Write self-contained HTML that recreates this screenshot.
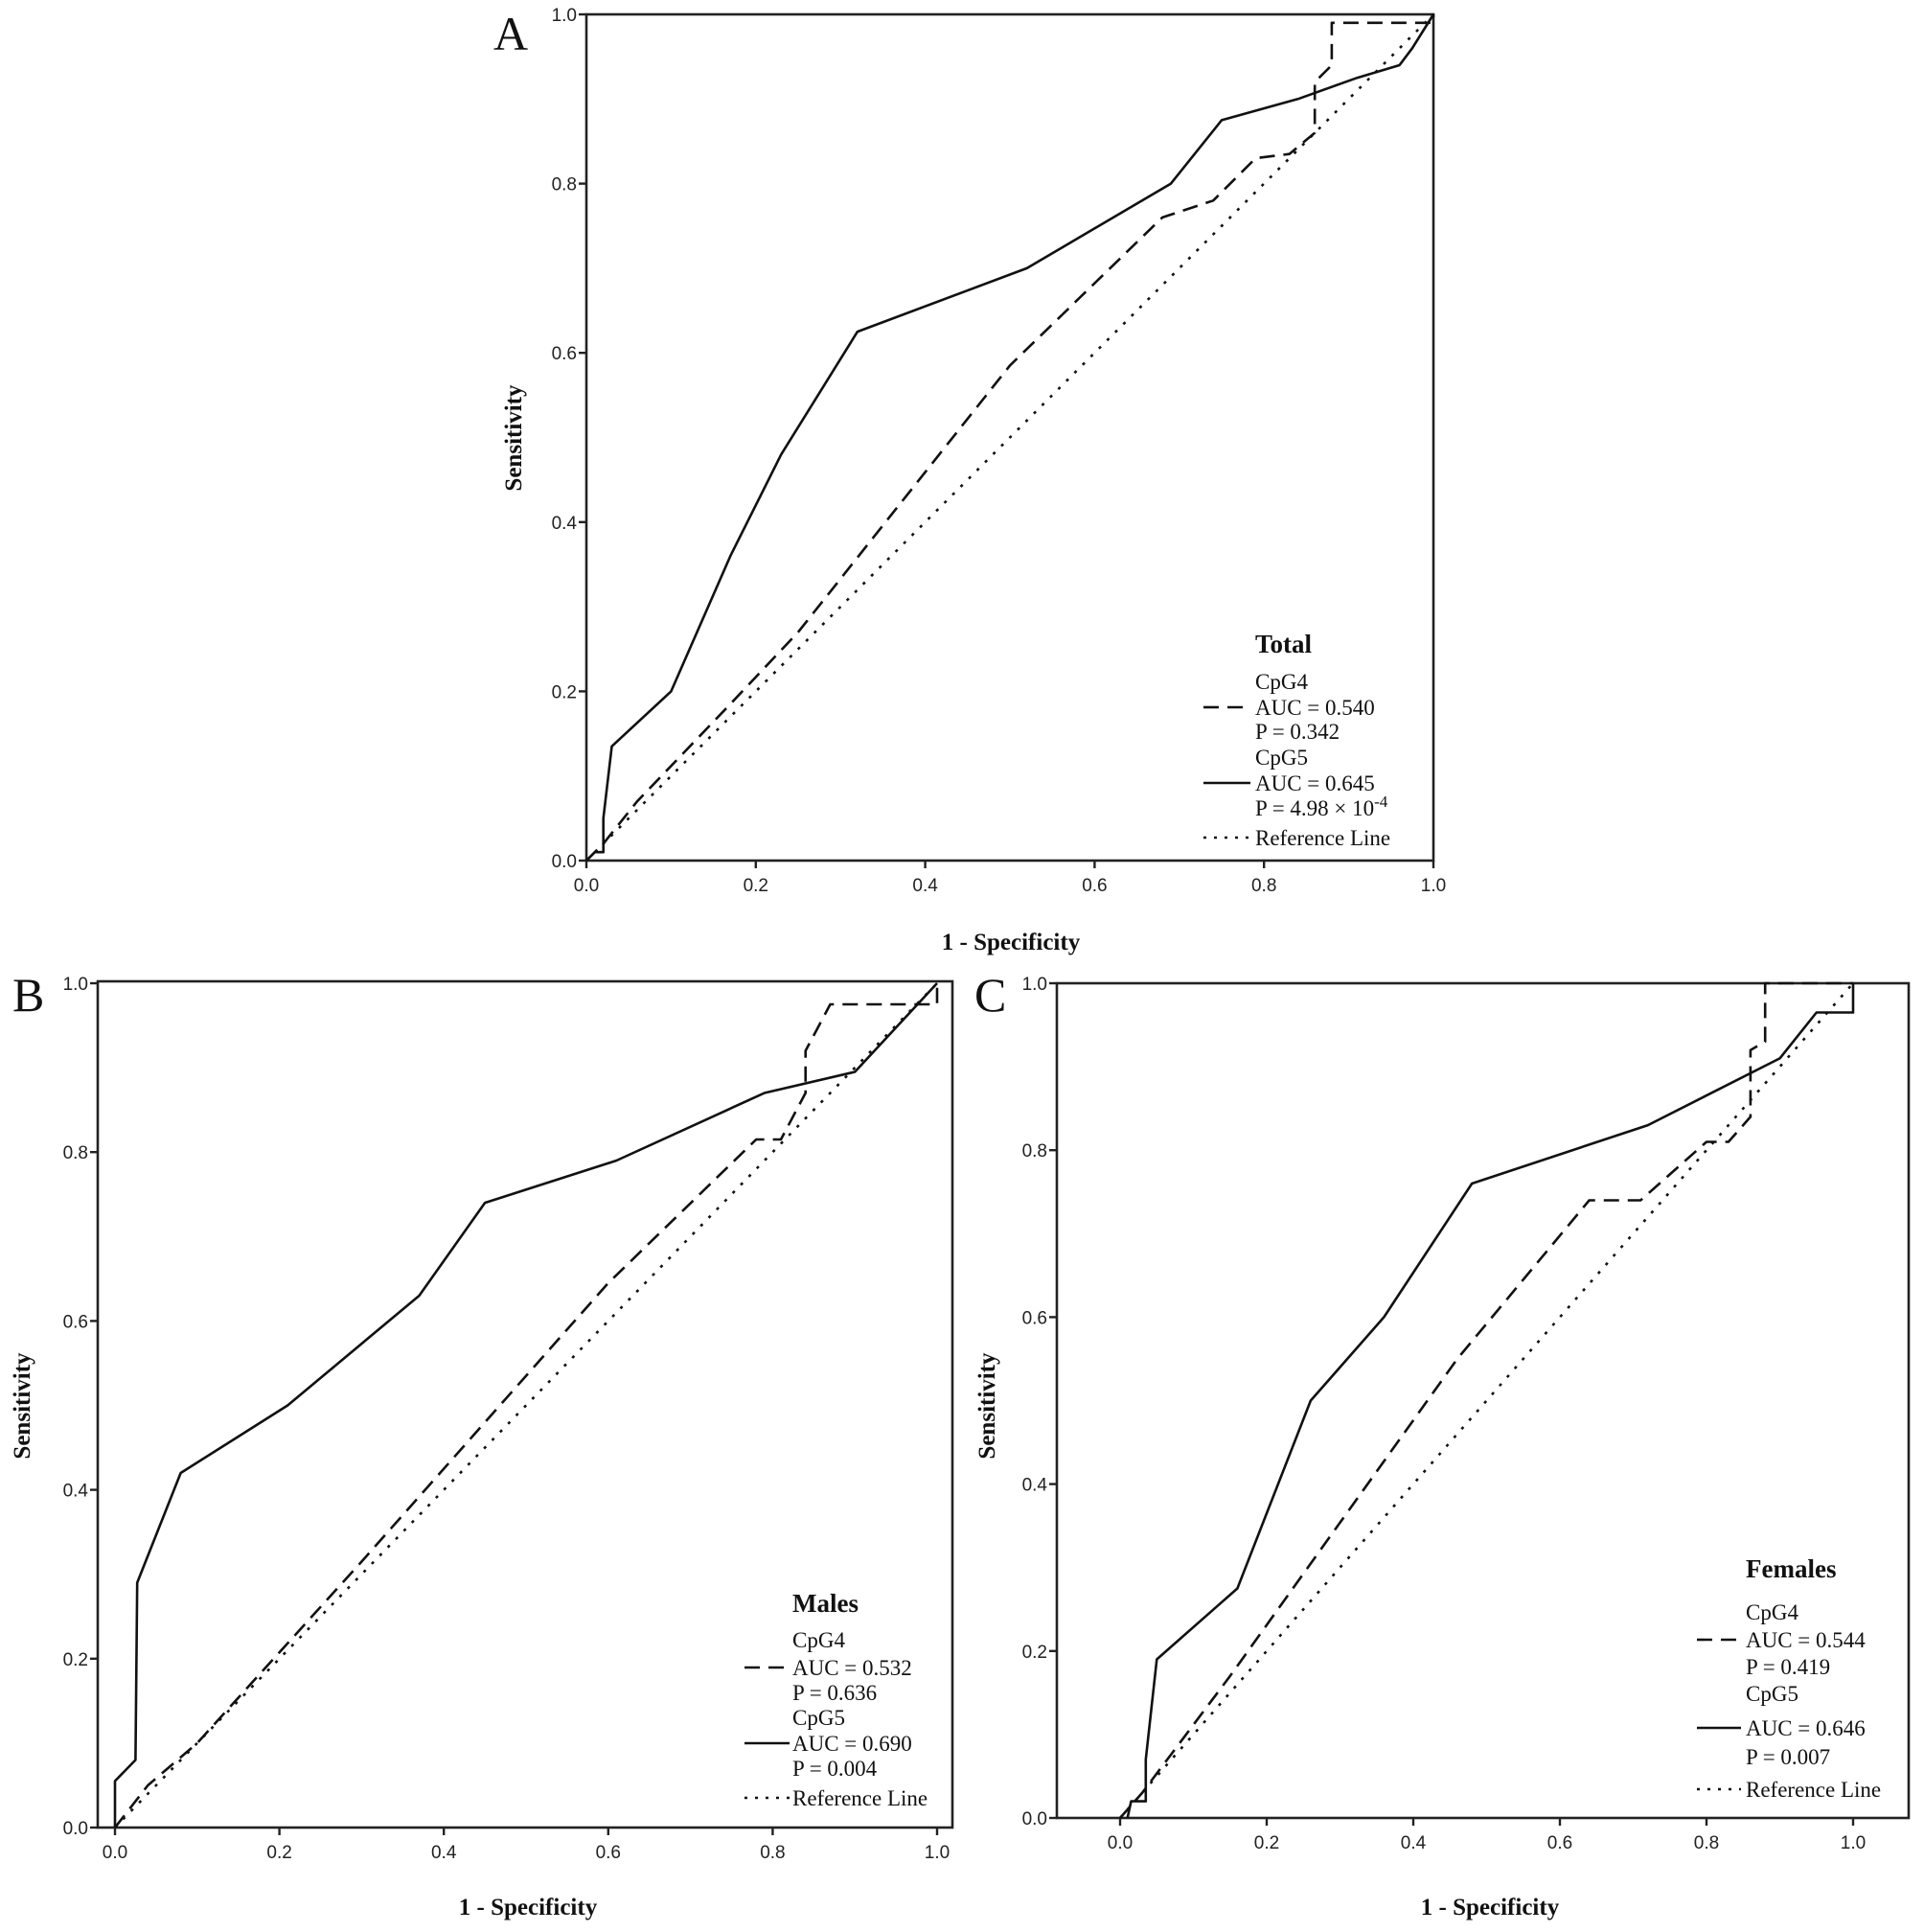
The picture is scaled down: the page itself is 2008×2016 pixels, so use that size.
<!DOCTYPE html>
<html><head><meta charset="utf-8"><style>
html,body{margin:0;padding:0;background:#fff;}
svg{display:block;}
.tk{font-family:"Liberation Sans",sans-serif;font-size:19px;fill:#222;}
.ttl{font-family:"Liberation Serif",serif;font-weight:bold;font-size:25px;fill:#111;}
.lg{font-family:"Liberation Serif",serif;font-size:23px;fill:#111;}
.lgh{font-family:"Liberation Serif",serif;font-weight:bold;font-size:27px;fill:#111;}
.let{font-family:"Liberation Serif",serif;font-size:50px;fill:#111;}
</style></head><body>
<svg id="fig" width="2008" height="2016" viewBox="0 0 2008 2016" xmlns="http://www.w3.org/2000/svg"></svg>
<script>
// ---- Data ----
const ticks = [0, 0.2, 0.4, 0.6, 0.8, 1.0];
const tickLabels = ["0.0","0.2","0.4","0.6","0.8","1.0"];
const refX = [0, 1];
const refY = [0, 1];
// Panel A (Total)
const aCpg5X = [0,0.01,0.02,0.02,0.03,0.10,0.17,0.23,0.32,0.52,0.69,0.75,0.84,0.91,0.96,0.975,1];
const aCpg5Y = [0,0.01,0.01,0.05,0.135,0.20,0.36,0.48,0.625,0.70,0.80,0.875,0.90,0.925,0.94,0.96,1];
const aCpg4X = [0,0.02,0.06,0.17,0.25,0.50,0.68,0.74,0.79,0.83,0.86,0.86,0.88,0.88,1,1];
const aCpg4Y = [0,0.02,0.07,0.185,0.27,0.585,0.76,0.78,0.83,0.835,0.86,0.92,0.94,0.99,0.99,1];
// Panel B (Males)
const bCpg5X = [0,0,0.025,0.027,0.08,0.21,0.37,0.45,0.61,0.79,0.90,1];
const bCpg5Y = [0,0.055,0.08,0.29,0.42,0.50,0.63,0.74,0.79,0.87,0.895,1];
const bCpg4X = [0,0.04,0.10,0.30,0.60,0.78,0.81,0.84,0.84,0.87,1,1];
const bCpg4Y = [0,0.05,0.10,0.315,0.645,0.815,0.815,0.87,0.92,0.975,0.975,1];
// Panel C (Females)
const cCpg5X = [0.01,0.015,0.035,0.035,0.05,0.16,0.26,0.36,0.48,0.72,0.90,0.95,1,1];
const cCpg5Y = [0,0.02,0.02,0.07,0.19,0.275,0.50,0.60,0.76,0.83,0.91,0.965,0.965,1];
const cCpg4X = [0,0.03,0.15,0.46,0.64,0.71,0.80,0.83,0.86,0.86,0.88,0.88,1];
const cCpg4Y = [0,0.03,0.17,0.55,0.74,0.74,0.81,0.81,0.84,0.92,0.93,1,1];

const NS = "http://www.w3.org/2000/svg";
const svg = document.getElementById('fig');
function mk(tag, attrs, parent){
  const e = document.createElementNS(NS, tag);
  for (const k in attrs) e.setAttribute(k, attrs[k]);
  (parent||svg).appendChild(e);
  return e;
}
function txt(s, x, y, cls, anchor, parent){
  const t = mk('text', {x:x, y:y, class:cls, 'text-anchor':anchor||'start'}, parent);
  t.textContent = s;
  return t;
}

function panel(cfg){
  const g = mk('g', {});
  
  
  const sx = v => cfg.x0 + v*(cfg.x1-cfg.x0);
  const sy = v => cfg.y0 - v*(cfg.y0-cfg.y1);
  const fr = mk('rect', {x:cfg.fl, y:cfg.ft, width:cfg.fr-cfg.fl, height:cfg.fb-cfg.ft, fill:'none', stroke:'#222', 'stroke-width':2.6}, g);
  
  
  ticks.forEach((t,i)=>{
    mk('line', {x1:cfg.fl-8, x2:cfg.fl, y1:sy(t), y2:sy(t), stroke:'#222','stroke-width':2.4}, g);
    const yl = txt(tickLabels[i], cfg.fl-10, sy(t)+7, 'tk', 'end', g);
    
    
    mk('line', {x1:sx(t), x2:sx(t), y1:cfg.fb, y2:cfg.fb+8, stroke:'#222','stroke-width':2.4}, g);
    const xl = txt(tickLabels[i], sx(t), cfg.fb+32, 'tk', 'middle', g);
    
    
  });
  const xt = txt('1 - Specificity', cfg.xtX, cfg.xtY, 'ttl', 'middle', g);
  
  
  const yt = txt('Sensitivity', 0, 0, 'ttl', 'middle', g);
  yt.setAttribute('transform', `translate(${cfg.ytX},${cfg.ytY}) rotate(-90)`);
  
  
  const lt = txt(cfg.letter, cfg.lx, cfg.ly, 'let', 'start', g);
  
  
  const line = (xs, ys, dash, nm) => {
    const d = xs.map((v,i)=>(i?'L':'M')+sx(v).toFixed(1)+' '+sy(ys[i]).toFixed(1)).join(' ');
    const p = mk('path', {d:d, fill:'none', stroke:'#111', 'stroke-width':2.6, 'stroke-linejoin':'round'}, g);
    if (dash) p.setAttribute('stroke-dasharray', dash);
    
    
  };
  line(refX, refY, '3 9', 'reference-line');
  line(cfg.c4x, cfg.c4y, '16 9', 'cpg4-curve');
  line(cfg.c5x, cfg.c5y, null, 'cpg5-curve');
  const lgG = mk('g', {}, g);
  
  
  txt(cfg.legTitle, cfg.legX, cfg.legRows[0], 'lgh', 'start', lgG);
  const rows = ['CpG4', cfg.auc4, cfg.p4, 'CpG5', cfg.auc5, cfg.p5, 'Reference Line'];
  rows.forEach((r,i)=>{
    const t = txt(r, cfg.legX, cfg.legRows[i+1], 'lg', 'start', lgG);
    if (cfg.sup && i === 5) {
      const s = mk('tspan', {'baseline-shift':'super', 'font-size':'17px'}, t);
      s.textContent = cfg.sup;
    }
    
    
  });
  const sample = (row, dash) => {
    const y = cfg.legRows[row]-8;
    const l = mk('line', {x1:cfg.sx1, x2:cfg.sx2, y1:y, y2:y, stroke:'#111','stroke-width':2.6}, lgG);
    if (dash) l.setAttribute('stroke-dasharray', dash);
  };
  sample(2, '16 9'); sample(5, null); sample(7, '3 8');
  return g;
}

panel({name:'panel-a-total', letter:'A', lx:515, ly:52,
  fl:612, fr:1496, ft:15, fb:898, x0:612, x1:1496, y0:898, y1:15,
  xtX:1055, xtY:991, ytX:544, ytY:457,
  c4x:aCpg4X, c4y:aCpg4Y, c5x:aCpg5X, c5y:aCpg5Y,
  legTitle:'Total', auc4:'AUC = 0.540', p4:'P = 0.342', auc5:'AUC = 0.645', p5:'P = 4.98 × 10', sup:'-4',
  legX:1310, sx1:1256, sx2:1305, legRows:[681,719,746,771,798,825,851,882]});

panel({name:'panel-b-males', letter:'B', lx:13, ly:1055,
  fl:102, fr:994, ft:1024, fb:1907, x0:120, x1:978, y0:1907, y1:1026,
  xtX:551, xtY:1998, ytX:31, ytY:1467,
  c4x:bCpg4X, c4y:bCpg4Y, c5x:bCpg5X, c5y:bCpg5Y,
  legTitle:'Males', auc4:'AUC = 0.532', p4:'P = 0.636', auc5:'AUC = 0.690', p5:'P = 0.004',
  legX:827, sx1:777, sx2:824, legRows:[1682,1719,1748,1774,1800,1827,1853,1884]});

panel({name:'panel-c-females', letter:'C', lx:1017, ly:1055,
  fl:1103, fr:1992, ft:1026, fb:1897, x0:1169, x1:1934, y0:1897, y1:1026,
  xtX:1555, xtY:1998, ytX:1038, ytY:1467,
  c4x:cCpg4X, c4y:cCpg4Y, c5x:cCpg5X, c5y:cCpg5Y,
  legTitle:'Females', auc4:'AUC = 0.544', p4:'P = 0.419', auc5:'AUC = 0.646', p5:'P = 0.007',
  legX:1822, sx1:1771, sx2:1817, legRows:[1646,1690,1719,1747,1775,1811,1841,1875]});
</script>
</body></html>
